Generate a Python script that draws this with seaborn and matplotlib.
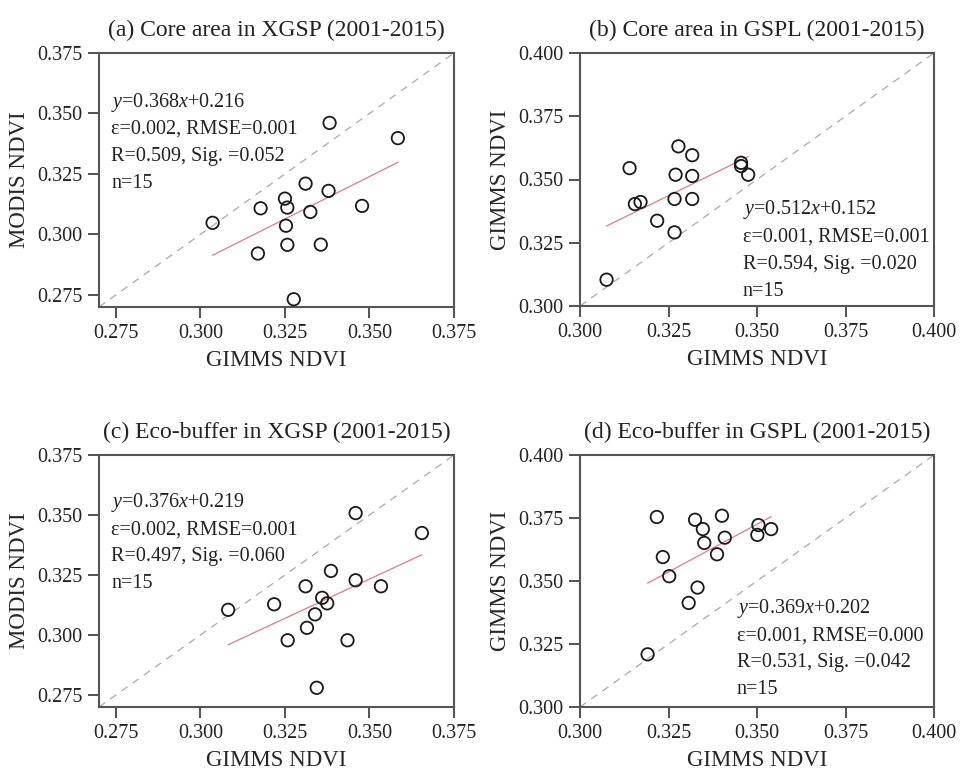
import numpy as np
import pandas as pd
import matplotlib
matplotlib.use("Agg")
import matplotlib.pyplot as plt
import seaborn as sns

# ---------------- data ----------------
a_x = [0.3036, 0.3178, 0.3170, 0.3250, 0.3257, 0.3253, 0.3257, 0.3276, 0.3311, 0.3325, 0.3356, 0.3379, 0.3382, 0.3478, 0.3584]
a_y = [0.3048, 0.3108, 0.2921, 0.3148, 0.3111, 0.3036, 0.2957, 0.2732, 0.3210, 0.3093, 0.2958, 0.3180, 0.3461, 0.3118, 0.3398]

b_x = [0.3075, 0.3140, 0.3155, 0.3171, 0.3218, 0.3267, 0.3267, 0.3270, 0.3278, 0.3317, 0.3317, 0.3317, 0.3455, 0.3455, 0.3475]
b_y = [0.3104, 0.3545, 0.3403, 0.3411, 0.3337, 0.3291, 0.3423, 0.3519, 0.3631, 0.3596, 0.3514, 0.3423, 0.3566, 0.3553, 0.3519]

c_x = [0.3082, 0.3218, 0.3258, 0.3311, 0.3315, 0.3339, 0.3344, 0.3360, 0.3375, 0.3386, 0.3435, 0.3459, 0.3459, 0.3534, 0.3655]
c_y = [0.3105, 0.3128, 0.2978, 0.3203, 0.3030, 0.3086, 0.2780, 0.3155, 0.3132, 0.3267, 0.2978, 0.3508, 0.3228, 0.3203, 0.3425]

d_x = [0.3191, 0.3217, 0.3234, 0.3252, 0.3307, 0.3325, 0.3332, 0.3347, 0.3351, 0.3387, 0.3401, 0.3409, 0.3501, 0.3504, 0.3540]
d_y = [0.3209, 0.3754, 0.3595, 0.3519, 0.3413, 0.3743, 0.3474, 0.3706, 0.3651, 0.3606, 0.3759, 0.3672, 0.3683, 0.3722, 0.3706]

titles = ["(a) Core area in XGSP (2001-2015)", "(b) Core area in GSPL (2001-2015)",
          "(c) Eco-buffer in XGSP (2001-2015)", "(d) Eco-buffer in GSPL (2001-2015)"]
ylabels = ["MODIS NDVI", "GIMMS NDVI", "MODIS NDVI", "GIMMS NDVI"]
xlabel = "GIMMS NDVI"
eqs = [r"$\mathit{y}$=0.368$\mathit{x}$+0.216", r"$\mathit{y}$=0.512$\mathit{x}$+0.152",
       r"$\mathit{y}$=0.376$\mathit{x}$+0.219", r"$\mathit{y}$=0.369$\mathit{x}$+0.202"]
stats1 = ["ε=0.002, RMSE=0.001", "ε=0.001, RMSE=0.001", "ε=0.002, RMSE=0.001", "ε=0.001, RMSE=0.000"]
stats2 = ["R=0.509, Sig. =0.052", "R=0.594, Sig. =0.020", "R=0.497, Sig. =0.060", "R=0.531, Sig. =0.042"]
ns = ["n=15"] * 4

ticks_a = [0.275, 0.300, 0.325, 0.350, 0.375]
ticks_b = [0.300, 0.325, 0.350, 0.375, 0.400]

# ---------------- style ----------------
sns.set_theme(style="ticks")
plt.rcParams["font.family"] = ["Liberation Serif", "DejaVu Serif"]
plt.rcParams["mathtext.fontset"] = "custom"
plt.rcParams["mathtext.rm"] = "Liberation Serif"
plt.rcParams["mathtext.it"] = "Liberation Serif:italic"
plt.rcParams["text.color"] = "#222222"

fig = plt.figure(figsize=(9.6, 7.71), dpi=100)
positions = [
    [99/960, 1-307/771, 355/960, 254/771],
    [580/960, 1-306/771, 354/960, 253/771],
    [99/960, 1-707/771, 355/960, 252/771],
    [580/960, 1-707/771, 354/960, 252/771],
]
datasets = [(a_x, a_y), (b_x, b_y), (c_x, c_y), (d_x, d_y)]
lims = [(0.270, 0.375), (0.300, 0.400), (0.270, 0.375), (0.300, 0.400)]
tick_sets = [ticks_a, ticks_b, ticks_a, ticks_b]
text_pos = [(0.035, 0.807), (0.46, 0.38), (0.035, 0.81), (0.443, 0.39)]

for i in range(4):
    ax = fig.add_axes(positions[i])
    x, y = datasets[i]
    df = pd.DataFrame({"x": x, "y": y})
    lo, hi = lims[i]
    ax.plot([lo, hi], [lo, hi], ls=(0, (6, 5)), color="#aaaaaa", lw=0.9, zorder=1)
    sns.regplot(data=df, x="x", y="y", ax=ax, ci=None, scatter=False,
                line_kws=dict(color="#e07a88", lw=0.9, zorder=2))
    sns.scatterplot(data=df, x="x", y="y", ax=ax, s=80, facecolor="none",
                    edgecolor="#1a1a1a", linewidth=1.3, zorder=3)
    ax.set_xlim(lo, hi)
    ax.set_ylim(lo, hi)
    ax.set_xticks(tick_sets[i])
    ax.set_yticks(tick_sets[i])
    ax.set_xticklabels([f"{t:.3f}" for t in tick_sets[i]])
    ax.set_yticklabels([f"{t:.3f}" for t in tick_sets[i]])
    ax.tick_params(direction="out", length=8, width=1.3, labelsize=14.5,
                   colors="#222222", pad=4)
    ax.tick_params(axis="both", color="#444444")
    for sp in ax.spines.values():
        sp.set_color("#555555")
        sp.set_linewidth(1.5)
        sp.set_visible(True)
    ax.set_xlabel(xlabel, fontsize=16.5, labelpad=5)
    ax.set_ylabel(ylabels[i], fontsize=16.5, labelpad=5)
    ax.set_title(titles[i], fontsize=17, pad=12)
    tx, ty = text_pos[i]
    lines = [eqs[i], stats1[i], stats2[i], ns[i]]
    for k, t in enumerate(lines):
        ax.text(tx, ty - k * 0.107, t, transform=ax.transAxes, fontsize=14.5,
                ha="left", va="center", color="#222222")

fig.savefig("out.png", dpi=100)
